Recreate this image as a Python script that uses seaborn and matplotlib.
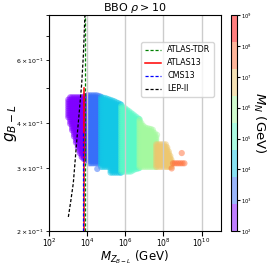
#### Imports ####
import numpy as np
import pandas as pd
import seaborn as sns
import matplotlib.pyplot as plt
from matplotlib.colors import LogNorm
from matplotlib.cm import ScalarMappable

#### Data ####
# M_N (GeV) of each colour band of points
mn_bands = [2.7e2, 2.0e3, 1.5e4, 1.1e5, 8.7e5, 6.5e6, 4.9e7]

# each band = columns of points: log10(M_Z') position, lowest and highest g_{B-L}
band_logmz = [
    [3.0, 3.1, 3.2, 3.3, 3.4, 3.5, 3.6, 3.7, 3.8, 3.9, 4.0],
    [4.1, 4.2, 4.3, 4.4, 4.5, 4.6, 4.7],
    [4.72, 4.82, 4.92, 5.02, 5.12, 5.22, 5.32, 5.42, 5.52, 5.62, 5.72, 5.78],
    [5.78, 5.88, 5.98, 6.08, 6.18, 6.28, 6.38, 6.48, 6.58, 6.68, 6.74],
    [6.74, 6.84, 6.94, 7.04, 7.14, 7.24, 7.34, 7.44, 7.54, 7.62],
    [7.62, 7.72, 7.82, 7.92, 8.02, 8.12, 8.2, 8.28, 8.36, 8.42],
    [8.5, 8.6, 8.7, 8.8, 8.9, 9.0, 9.1],
]
band_glo = [
    [0.415, 0.398, 0.382, 0.367, 0.353, 0.342, 0.330, 0.322, 0.318, 0.316, 0.316],
    [0.309, 0.309, 0.309, 0.309, 0.309, 0.309, 0.309],
    [0.302, 0.302, 0.302, 0.302, 0.302, 0.291, 0.291, 0.291, 0.291, 0.291, 0.291, 0.291],
    [0.293, 0.293, 0.293, 0.293, 0.293, 0.293, 0.295, 0.297, 0.298, 0.299, 0.300],
    [0.302, 0.302, 0.302, 0.302, 0.302, 0.302, 0.302, 0.302, 0.302, 0.302],
    [0.302, 0.302, 0.302, 0.302, 0.302, 0.302, 0.302, 0.302, 0.302, 0.302],
    [0.309, 0.309, 0.309, 0.309, 0.309, 0.309, 0.309],
]
band_ghi = [
    [0.465, 0.472, 0.472, 0.472, 0.472, 0.472, 0.472, 0.472, 0.474, 0.476, 0.478],
    [0.478, 0.478, 0.478, 0.478, 0.478, 0.476, 0.474],
    [0.472, 0.471, 0.470, 0.468, 0.466, 0.464, 0.462, 0.460, 0.457, 0.455, 0.452, 0.450],
    [0.446, 0.443, 0.440, 0.436, 0.432, 0.428, 0.424, 0.420, 0.416, 0.412, 0.410],
    [0.408, 0.400, 0.393, 0.389, 0.387, 0.386, 0.385, 0.383, 0.375, 0.365],
    [0.349, 0.349, 0.349, 0.349, 0.349, 0.349, 0.342, 0.333, 0.324, 0.316],
    [0.311, 0.311, 0.311, 0.311, 0.311, 0.311, 0.311],
]
# a few isolated points
stray_logmz = [4.52, 7.66, 8.96, 8.43]
stray_g = [0.298, 0.371, 0.330, 0.299]
stray_mn = [2.0e3, 8.7e5, 4.9e7, 4.9e7]

# collider / LEP limits
atlas_tdr_mz, atlas_tdr_g = [7400, 7400], [0.2, 0.8]
atlas13_mz, atlas13_g = [7000, 7000], [0.2, 0.5]
cms13_mz, cms13_g = [6200, 6200], [0.2, 0.38]
lep_mz = [1000, 1350, 1820, 2340, 2950, 3890, 5010, 6170, 7410]
lep_g = [0.219, 0.243, 0.272, 0.32, 0.372, 0.44, 0.514, 0.62, 0.80]

#### Build point table ####
rows = []
for mn, xs, los, his in zip(mn_bands, band_logmz, band_glo, band_ghi):
    for lx, lo, hi in zip(xs, los, his):
        n = max(1, int(round(np.log10(hi / lo) / 0.006)) + 1)
        for g in np.geomspace(lo, hi, n):
            rows.append((10 ** lx, g, mn))
for lx, g, mn in zip(stray_logmz, stray_g, stray_mn):
    rows.append((10 ** lx, g, mn))
df = pd.DataFrame(rows, columns=['mz', 'g', 'mn'])

#### Plot ####
cmap = plt.get_cmap('rainbow', 8)
norm = LogNorm(vmin=1e2, vmax=1e9)

fig = plt.figure(figsize=(2.74, 2.65), dpi=100)
ax = fig.add_axes([0.18, 0.128, 0.625, 0.815])
cax = fig.add_axes([0.843, 0.128, 0.022, 0.815])

sns.scatterplot(data=df, x='mz', y='g', hue='mn', palette=cmap, hue_norm=norm,
                s=20, alpha=0.5, linewidth=0, legend=False, ax=ax)

dash = (0, (2.5, 1.5))
ax.plot(atlas_tdr_mz, atlas_tdr_g, color='green', ls=dash, lw=0.9, label='ATLAS-TDR')
ax.plot(atlas13_mz, atlas13_g, color='red', lw=1.1, label='ATLAS13')
ax.plot(cms13_mz, cms13_g, color='blue', ls=dash, lw=0.9, label='CMS13')
ax.plot(lep_mz, lep_g, color='black', ls=dash, lw=0.9, label='LEP-II')

ax.set_xscale('log')
ax.set_yscale('log')
ax.set_xlim(1e2, 1e11)
ax.set_ylim(0.2, 0.8)
ax.set_xticks([1e2, 1e4, 1e6, 1e8, 1e10])
ax.grid(True, which='major', color='0.8', lw=1.0)
ax.tick_params(axis='x', which='both', labelsize=5.5, pad=0.5)
ax.tick_params(axis='y', which='both', labelsize=4.5, pad=2)

ax.set_title(r'BBO $\rho > 10$', fontsize=8, pad=1)
ax.set_xlabel(r'$M_{Z_{B-L}}$ (GeV)', fontsize=8.5, labelpad=-0.5)
ax.set_ylabel(r'$g_{B-L}$', fontsize=11, labelpad=-2)

ax.legend(loc='upper right', bbox_to_anchor=(0.96, 0.875), borderaxespad=0,
          fontsize=5.8, handlelength=2.0, framealpha=0.8)

sm = ScalarMappable(norm=norm, cmap=cmap)
cb = fig.colorbar(sm, cax=cax, alpha=0.5)
cb.ax.minorticks_off()
cb.ax.tick_params(labelsize=3.8, length=2, pad=1)
cb.set_label(r'$M_N$ (GeV)', fontsize=9.5, rotation=270, labelpad=11)

fig.savefig('out.png', dpi=100)
